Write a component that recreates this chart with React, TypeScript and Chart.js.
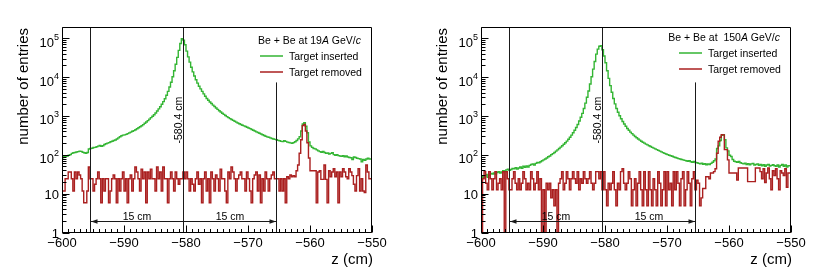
import React, { useEffect, useRef } from "react";
import { Chart, registerables } from "chart.js";

Chart.register(...registerables);

// ---- binning / axis ranges ----
const BIN_LOW = -600;
const BIN_WIDTH = 0.25;
const X_MIN = -600;
const X_MAX = -550;
const Y_MIN = 1;
const Y_MAX = 2e5;

// ---- tick labels ----
const xTickLabels = [-600, -590, -580, -570, -560, -550];
const yDecadeExponents = [0, 1, 2, 3, 4, 5];

// ---- annotations (data coordinates) ----
const markerPositions = [-595.4, -580.4, -565.4];
const markerTopValues = [Y_MAX, Y_MAX, 7500];
const arrowLevel = 2;
const peakLabelLevel = 800;
const peakLabel = "-580.4 cm";
const spanLabel = "15 cm";
const xTitle = "z (cm)";
const yTitle = "number of entries";
const legendInserted = "Target inserted";
const legendRemoved = "Target removed";
const headerLeft: [string, boolean][] = [["Be + Be at 19", false], ["A", true], [" GeV/", false], ["c", true]];
const headerRight: [string, boolean][] = [["Be + Be at  150", false], ["A", true], [" GeV/", false], ["c", true]];

// ---- histogram contents, 0.25 cm bins from -600 to -550 (200 bins) ----
const leftInserted = [
  88, 86, 92, 94, 96, 100, 104, 112, 116, 118,
  121, 124, 128, 126, 120, 116, 112, 118, 145, 150,
  152, 158, 160, 166, 172, 178, 170, 176, 190, 198,
  205, 212, 222, 230, 240, 248, 262, 280, 300, 318,
  330, 336, 345, 360, 378, 395, 415, 432, 455, 480,
  510, 540, 575, 615, 665, 720, 780, 850, 930, 1010,
  1100, 1220, 1380, 1560, 1780, 2050, 2400, 2850, 3500, 4400,
  5700, 7600, 10500, 15000, 22000, 33000, 50000, 75000, 100000, 92000,
  70000, 48000, 34000, 25000, 18500, 14000, 11000, 8800, 7200, 6000,
  5100, 4400, 3800, 3300, 2900, 2600, 2350, 2150, 1950, 1800,
  1650, 1520, 1400, 1300, 1210, 1130, 1060, 990, 930, 880,
  830, 790, 750, 715, 680, 650, 620, 595, 570, 548,
  525, 505, 485, 462, 440, 420, 400, 385, 368, 352,
  338, 322, 310, 298, 290, 280, 270, 262, 256, 250,
  242, 236, 228, 225, 236, 228, 218, 214, 208, 204,
  212, 222, 240, 265, 300, 420, 640, 690, 560, 380,
  220, 175, 160, 150, 146, 138, 130, 124, 120, 126,
  118, 112, 114, 108, 112, 116, 104, 100, 104, 98,
  96, 94, 97, 92, 96, 90, 88, 86, 78, 90,
  88, 84, 82, 80, 68, 78, 74, 80, 84, 80,
];
const leftRemoved = [
  12, 12, 12, 25, 25, 37, 37, 25, 12, 37,
  25, 37, 31, 25, 12, 6, 6, 12, 50, 25,
  25, 12, 18, 25, 37, 25, 6, 25, 12, 25,
  25, 6, 12, 25, 31, 25, 6, 25, 12, 25,
  37, 12, 25, 6, 25, 31, 12, 25, 50, 37,
  25, 12, 44, 25, 37, 6, 37, 25, 44, 25,
  25, 12, 50, 25, 37, 12, 50, 25, 25, 6,
  25, 37, 25, 12, 37, 25, 18, 25, 25, 37,
  25, 37, 25, 12, 25, 18, 12, 25, 37, 18,
  25, 6, 25, 37, 12, 25, 6, 37, 25, 12,
  31, 25, 12, 44, 25, 25, 12, 6, 37, 25,
  50, 37, 25, 12, 25, 31, 37, 25, 25, 12,
  37, 25, 12, 6, 25, 31, 37, 12, 31, 6,
  25, 12, 37, 25, 12, 25, 31, 37, 25, 25,
  25, 12, 25, 12, 25, 6, 28, 25, 31, 28,
  30, 28, 40, 56, 113, 250, 580, 620, 420, 210,
  85, 40, 40, 40, 40, 6, 37, 40, 24, 24,
  56, 24, 6, 40, 28, 37, 45, 28, 37, 6,
  37, 28, 45, 37, 28, 25, 45, 37, 30, 18,
  12, 30, 45, 12, 25, 12, 11, 56, 37, 25,
];
const rightInserted = [
  28, 30, 26, 29, 32, 27, 31, 34, 33, 35,
  33, 36, 38, 35, 37, 40, 38, 42, 44, 41,
  43, 46, 45, 48, 44, 47, 50, 46, 52, 49,
  53, 50, 55, 58, 60, 56, 62, 65, 64, 68,
  72, 76, 80, 85, 92, 96, 104, 110, 118, 128,
  138, 150, 162, 176, 192, 210, 232, 258, 290, 330,
  380, 440, 520, 620, 760, 950, 1200, 1600, 2200, 3100,
  4500, 6800, 10500, 16500, 26000, 40000, 54000, 64000, 66000, 52000,
  36000, 24000, 15000, 9500, 6200, 4200, 2900, 2100, 1600, 1280,
  1040, 870, 740, 640, 560, 490, 440, 395, 360, 330,
  305, 282, 262, 245, 230, 216, 205, 194, 185, 176,
  168, 160, 153, 146, 140, 134, 128, 122, 117, 112,
  108, 104, 100, 97, 94, 90, 88, 85, 82, 80,
  78, 76, 74, 72, 70, 72, 68, 66, 69, 65,
  64, 62, 60, 63, 59, 61, 57, 60, 58, 62,
  66, 72, 80, 150, 175, 240, 325, 340, 250, 155,
  130, 100, 93, 78, 70, 68, 66, 69, 64, 62,
  60, 63, 58, 61, 57, 60, 62, 56, 58, 60,
  55, 58, 54, 57, 52, 56, 58, 53, 55, 57,
  54, 52, 56, 50, 55, 58, 52, 56, 50, 54,
];
const rightRemoved = [
  38, 0, 25, 38, 19, 13, 38, 25, 13, 25,
  38, 13, 19, 25, 13, 38, 0, 38, 25, 13,
  13, 25, 38, 19, 13, 25, 13, 19, 38, 25,
  13, 19, 13, 38, 25, 13, 19, 38, 13, 25,
  0, 13, 0, 19, 13, 19, 8, 13, 5, 13,
  0, 19, 25, 38, 13, 19, 38, 25, 13, 25,
  38, 25, 19, 38, 13, 25, 19, 38, 25, 19,
  25, 38, 19, 13, 19, 38, 38, 25, 38, 13,
  38, 13, 5, 19, 13, 19, 38, 13, 5, 19,
  13, 38, 45, 19, 13, 19, 38, 25, 5, 13,
  25, 5, 19, 38, 13, 5, 38, 13, 5, 38,
  13, 5, 25, 13, 5, 38, 19, 5, 13, 38,
  5, 38, 13, 19, 5, 38, 13, 38, 19, 5,
  25, 38, 5, 13, 38, 19, 5, 25, 38, 13,
  23, 19, 5, 8, 14, 14, 28, 28, 25, 35,
  35, 38, 45, 113, 230, 290, 340, 335, 140, 140,
  76, 35, 35, 35, 35, 35, 23, 47, 47, 47,
  47, 47, 47, 21, 21, 21, 21, 21, 47, 47,
  47, 38, 25, 45, 20, 35, 47, 25, 13, 40,
  30, 45, 25, 13, 40, 35, 30, 45, 15, 35,
];

const GREEN = "#33b533";
const RED = "#aa1f1f";
const FONT = '"Liberation Sans", Arial, Helvetica, sans-serif';
const FLOOR = 0.5; // empty bins are drawn down to the axis (below the log range)

function toSteps(values: number[]) {
  const pts: { x: number; y: number }[] = [{ x: BIN_LOW, y: FLOOR }];
  values.forEach((v, i) => pts.push({ x: BIN_LOW + i * BIN_WIDTH, y: v > 0 ? v : FLOOR }));
  const end = BIN_LOW + values.length * BIN_WIDTH;
  const last = values[values.length - 1];
  pts.push({ x: end, y: last > 0 ? last : FLOOR });
  pts.push({ x: end, y: FLOOR });
  return pts;
}

const crisp = (p: number) => Math.floor(p) + 0.5;

function makeOverlay(header: [string, boolean][], legendDy: number) {
  return {
    id: "overlay",
    afterDraw(chart: any) {
      const ctx: CanvasRenderingContext2D = chart.ctx;
      const a = chart.chartArea;
      const xs = chart.scales.x;
      const ys = chart.scales.y;
      ctx.save();

      // markers
      ctx.strokeStyle = "#1a1a1a";
      ctx.lineWidth = 1;
      markerPositions.forEach((m, i) => {
        const px = crisp(xs.getPixelForValue(m));
        const top = Math.max(a.top, ys.getPixelForValue(markerTopValues[i]));
        ctx.beginPath();
        ctx.moveTo(px, top);
        ctx.lineTo(px, a.bottom);
        ctx.stroke();
      });

      // arrow
      const ay = crisp(ys.getPixelForValue(arrowLevel));
      const x1 = xs.getPixelForValue(markerPositions[0]);
      const x2 = xs.getPixelForValue(markerPositions[2]);
      ctx.beginPath();
      ctx.moveTo(x1, ay);
      ctx.lineTo(x2, ay);
      ctx.stroke();
      ctx.fillStyle = "#1a1a1a";
      ctx.beginPath();
      ctx.moveTo(x1 + 0.5, ay);
      ctx.lineTo(x1 + 7, ay - 2.2);
      ctx.lineTo(x1 + 7, ay + 2.2);
      ctx.closePath();
      ctx.fill();
      ctx.beginPath();
      ctx.moveTo(x2 - 0.5, ay);
      ctx.lineTo(x2 - 7, ay - 2.2);
      ctx.lineTo(x2 - 7, ay + 2.2);
      ctx.closePath();
      ctx.fill();

      // span labels
      ctx.fillStyle = "#000";
      ctx.font = `10.5px ${FONT}`;
      ctx.textAlign = "center";
      ctx.textBaseline = "alphabetic";
      for (let i = 0; i < 2; i++) {
        const mid = (markerPositions[i] + markerPositions[i + 1]) / 2;
        ctx.fillText(spanLabel, xs.getPixelForValue(mid), ay - 2);
      }

      // peak label (rotated)
      ctx.save();
      ctx.translate(xs.getPixelForValue(markerPositions[1]) - 1.5, ys.getPixelForValue(peakLabelLevel));
      ctx.rotate(-Math.PI / 2);
      ctx.textAlign = "center";
      ctx.fillText(peakLabel, 0, 0);
      ctx.restore();

      // frame
      ctx.strokeStyle = "#000";
      ctx.lineWidth = 1;
      const L = crisp(a.left), R = crisp(a.right - 1), T = crisp(a.top), B = crisp(a.bottom - 1);
      ctx.beginPath();
      ctx.moveTo(L, T); ctx.lineTo(R, T); ctx.lineTo(R, B); ctx.lineTo(L, B); ctx.closePath();
      ctx.stroke();

      // x ticks
      ctx.beginPath();
      for (let v = X_MIN; v <= X_MAX; v += 1) {
        const px = crisp(xs.getPixelForValue(v));
        const len = v % 10 === 0 ? 7 : 3.5;
        ctx.moveTo(px, B);
        ctx.lineTo(px, B - len);
      }
      // y ticks
      for (const e of yDecadeExponents) {
        for (let m = 1; m <= 9; m++) {
          const val = m * Math.pow(10, e);
          if (val > Y_MAX) break;
          const py = crisp(ys.getPixelForValue(val));
          const len = m === 1 ? 7 : 4;
          ctx.moveTo(L, py);
          ctx.lineTo(L + len, py);
        }
      }
      ctx.stroke();

      // x tick labels
      ctx.fillStyle = "#000";
      ctx.font = `13px ${FONT}`;
      ctx.textAlign = "center";
      for (const v of xTickLabels) {
        const txt = (v < 0 ? "\u2212" : "") + Math.abs(v);
        ctx.fillText(txt, xs.getPixelForValue(v), a.bottom + 14);
      }
      // y tick labels
      ctx.textAlign = "right";
      const rx = a.left - 3;
      for (const e of yDecadeExponents) {
        const py = ys.getPixelForValue(Math.pow(10, e));
        if (e === 0 || e === 1) {
          ctx.font = `13px ${FONT}`;
          ctx.fillText(e === 0 ? "1" : "10", rx, py + 4.5);
        } else {
          ctx.font = `9px ${FONT}`;
          const sw = ctx.measureText(String(e)).width;
          ctx.fillText(String(e), rx, py + 1);
          ctx.font = `13px ${FONT}`;
          ctx.fillText("10", rx - sw, py + 8);
        }
      }

      // axis titles
      ctx.font = `15px ${FONT}`;
      ctx.textAlign = "right";
      ctx.fillText(xTitle, a.right + 1, a.bottom + 31);
      ctx.save();
      ctx.translate(a.left - 34, a.top + 1);
      ctx.rotate(-Math.PI / 2);
      ctx.textAlign = "right";
      ctx.fillText(yTitle, 0, 0);
      ctx.restore();

      // legend header
      ctx.textAlign = "left";
      let total = 0;
      for (const [t, it] of header) {
        ctx.font = `${it ? "italic " : ""}10.5px ${FONT}`;
        total += ctx.measureText(t).width;
      }
      let hx = a.right - 11 - total;
      for (const [t, it] of header) {
        ctx.font = `${it ? "italic " : ""}10.5px ${FONT}`;
        ctx.fillText(t, hx, a.top + 16.5 + legendDy);
        hx += ctx.measureText(t).width;
      }
      // legend entries
      const entries: [string, string, number][] = [
        [legendInserted, GREEN, 29],
        [legendRemoved, RED, 45],
      ];
      ctx.font = `10.5px ${FONT}`;
      ctx.lineWidth = 1.5;
      for (const [t, col, dy] of entries) {
        const ly = a.top + dy + legendDy;
        ctx.strokeStyle = col;
        ctx.beginPath();
        ctx.moveTo(a.right - 112, ly);
        ctx.lineTo(a.right - 89, ly);
        ctx.stroke();
        ctx.fillStyle = "#000";
        ctx.fillText(t, a.right - 83, ly + 3.5);
      }

      ctx.restore();
    },
  };
}

type PanelProps = {
  inserted: number[];
  removed: number[];
  header: [string, boolean][];
  left: number;
  width: number;
  padLeft: number;
  padRight: number;
  legendDy: number;
};

function Panel({ inserted, removed, header, left, width, padLeft, padRight, legendDy }: PanelProps) {
  const ref = useRef<HTMLCanvasElement>(null);
  useEffect(() => {
    const chart = new Chart(ref.current as HTMLCanvasElement, {
      type: "line",
      data: {
        datasets: [
          {
            label: legendRemoved,
            data: toSteps(removed),
            borderColor: RED,
            backgroundColor: RED,
            borderWidth: 1.4,
            pointRadius: 0,
            stepped: "after",
            fill: false,
            order: 0,
            borderJoinStyle: "miter",
          } as any,
          {
            label: legendInserted,
            data: toSteps(inserted),
            borderColor: GREEN,
            backgroundColor: GREEN,
            borderWidth: 1.4,
            pointRadius: 0,
            stepped: "after",
            fill: false,
            order: 1,
            borderJoinStyle: "miter",
          } as any,
        ],
      },
      options: {
        animation: false,
        responsive: false,
        maintainAspectRatio: false,
        events: [],
        layout: { padding: { left: padLeft, right: padRight, top: 27, bottom: 43 } },
        plugins: { legend: { display: false }, tooltip: { enabled: false }, title: { display: false } },
        scales: {
          x: { type: "linear", min: X_MIN, max: X_MAX, display: false },
          y: { type: "logarithmic", min: Y_MIN, max: Y_MAX, display: false },
        },
      },
      plugins: [makeOverlay(header, legendDy)],
    });
    return () => chart.destroy();
  }, []);
  return (
    <canvas
      ref={ref}
      width={width}
      height={276}
      style={{ position: "absolute", left, top: 0, width, height: 276 }}
    />
  );
}

export default function App() {
  return (
    <div style={{ position: "absolute", left: 0, top: 0, width: 831, height: 276, background: "#fff" }}>
      <Panel inserted={leftInserted} removed={leftRemoved} header={headerLeft} left={0} width={415} padLeft={62} padRight={43} legendDy={0} />
      <Panel inserted={rightInserted} removed={rightRemoved} header={headerRight} left={415} width={416} padLeft={66} padRight={40} legendDy={-3} />
    </div>
  );
}
